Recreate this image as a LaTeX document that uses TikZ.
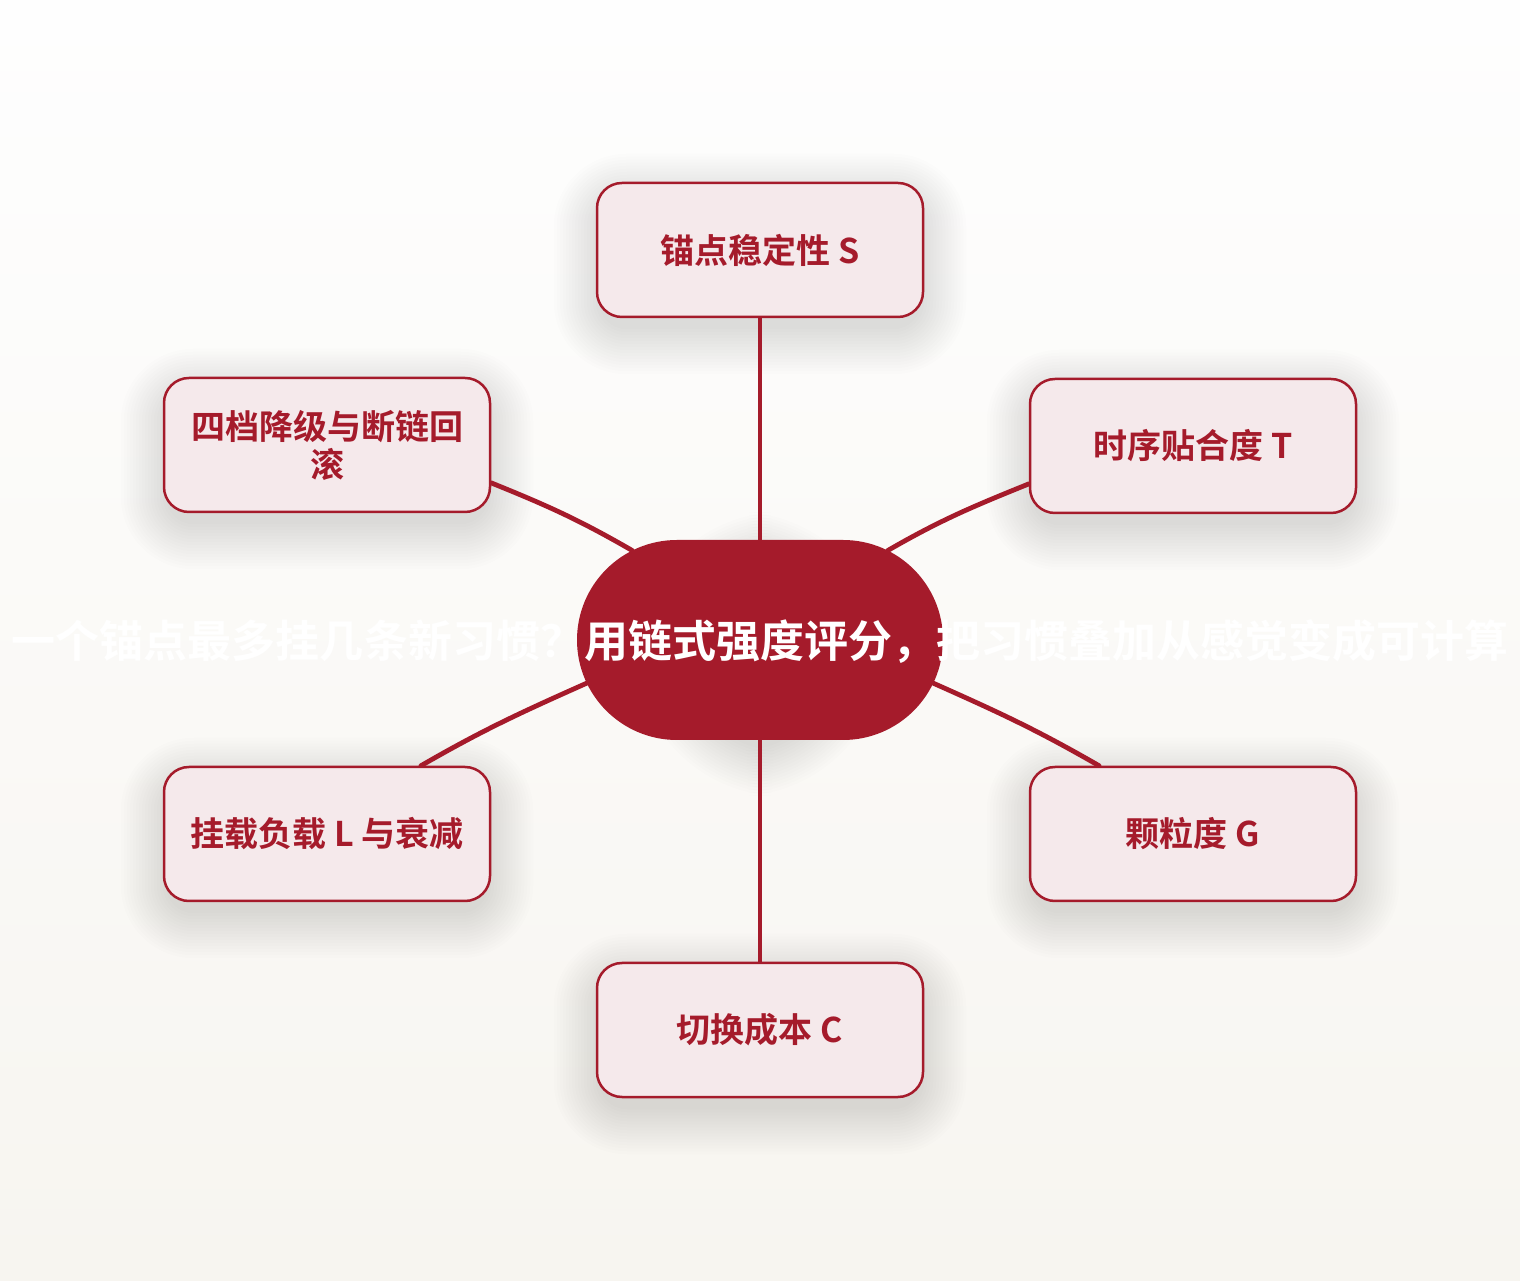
\documentclass[tikz,border=0pt]{standalone}
\usepackage{fontspec}
\newfontfamily\cjk{Noto Sans CJK SC}[BoldFont={Noto Sans CJK SC Bold}]
\usetikzlibrary{shapes.misc,calc}
\definecolor{dred}{RGB}{165,27,43}
\definecolor{boxfill}{RGB}{245,233,235}
\definecolor{bgtop}{RGB}{254,254,254}
\definecolor{bgbot}{RGB}{247,245,240}
\pgfdeclarelayer{bg}\pgfdeclarelayer{shadow}\pgfdeclarelayer{edges}
\pgfsetlayers{bg,shadow,edges,main}
\tikzset{
  leaf/.style={draw=dred, line width=2.5pt, fill=boxfill, rounded corners=25pt,
    minimum width=326pt, minimum height=134pt, text=dred, inner sep=0pt,
    font=\cjk\bfseries\fontsize{34pt}{38pt}\selectfont, align=center},
  hub/.style={rounded rectangle, fill=dred, minimum width=366pt, minimum height=200pt, inner sep=0pt},
  hubtext/.style={text=white, font=\cjk\bfseries\fontsize{44pt}{50pt}\selectfont, inner sep=0pt},
  conn/.style={draw=dred, line width=4.8pt, line cap=round},
}
\newcommand\softshadow[3]{%
  \foreach \i in {1,...,16}{
    \pgfmathsetmacro\rr{#2+\i*3}
    \fill[black, opacity=0.009, rounded corners=\rr pt]
      ($(#1.south west)+(-\i*3+6, -#3-\i*3+6)$) rectangle ($(#1.north east)+(\i*3-6, -#3+\i*3-6)$);
  }}
\begin{document}
\begin{tikzpicture}[x=1pt,y=1pt]
\useasboundingbox (0,0) rectangle (1520,1280);
\begin{pgfonlayer}{bg}
  \shade[top color=bgtop, bottom color=bgbot] (0,0) rectangle (1520,1280);
\end{pgfonlayer}

\node[hub] (c) at (760,640) {};
\node[hubtext] (ctext) at (760,638) {一个锚点最多挂几条新习惯？用链式强度评分，把习惯叠加从感觉变成可计算};

\node[leaf] (S) at (760,1030) {锚点稳定性 S};
\node[leaf] (lu) at (327,835) {四档降级与断链回\\滚};
\node[leaf] (ru) at (1193,834) {时序贴合度 T};
\node[leaf] (ld) at (327,446) {挂载负载 L 与衰减};
\node[leaf] (rd) at (1193,446) {颗粒度 G};
\node[leaf] (C) at (760,250) {切换成本 C};

\begin{pgfonlayer}{shadow}
  \softshadow{S}{25}{14}
  \softshadow{lu}{25}{14}
  \softshadow{ru}{25}{14}
  \softshadow{ld}{25}{14}
  \softshadow{rd}{25}{14}
  \softshadow{C}{25}{14}
  \softshadow{c}{100}{14}
\end{pgfonlayer}

\begin{pgfonlayer}{edges}
  \draw[conn] (S.south) -- (c.north);
  \draw[conn] (C.north) -- (c.south);
  \draw[conn] (lu.-13) to[out=-22,in=150] (c.145);
  \draw[conn] (ru.193) to[out=202,in=30] (c.35);
  \draw[conn] (ld.36) to[out=30,in=-156] (c.-166);
  \draw[conn] (rd.144) to[out=150,in=-24] (c.-14);
\end{pgfonlayer}
\end{tikzpicture}
\end{document}
